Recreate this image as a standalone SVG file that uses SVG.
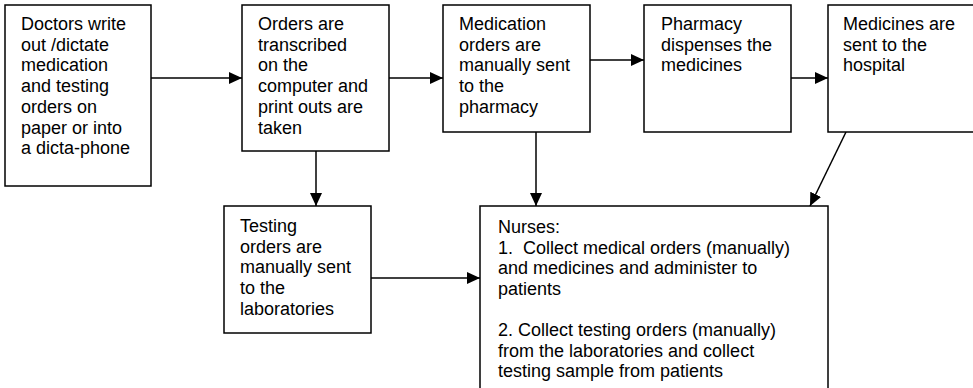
<svg xmlns="http://www.w3.org/2000/svg" width="973" height="388" viewBox="0 0 973 388">
<style>
.box{fill:#fff;stroke:#000;stroke-width:1.5}
.t{font-family:"Liberation Sans",Arial,sans-serif;font-size:18px;fill:#000}
.c{stroke:#000;stroke-width:1.5;fill:none;marker-end:url(#ah)}
</style>
<defs>
<marker id="ah" markerUnits="userSpaceOnUse" markerWidth="14" markerHeight="12" refX="13" refY="6" orient="auto">
<path d="M0,0 L13,6 L0,12 Z" fill="#000"/>
</marker>
</defs>
<rect width="973" height="388" fill="#fff"/>
<g id="connectors">
<line class="c" x1="151" y1="78" x2="242" y2="78"/>
<line class="c" x1="389" y1="78" x2="443" y2="78"/>
<line class="c" x1="590" y1="60" x2="644" y2="60"/>
<line class="c" x1="791" y1="78" x2="828" y2="78"/>
<line class="c" x1="316" y1="151" x2="316" y2="206"/>
<line class="c" x1="536" y1="132" x2="536" y2="206"/>
<line class="c" x1="846" y1="132" x2="810" y2="206"/>
<line class="c" x1="371" y1="278" x2="480" y2="278"/>
</g>
<g id="doctors">
<rect class="box" x="5" y="5" width="146" height="181"/>
<text class="t" x="21" y="30">Doctors write<tspan x="21" dy="20.7">out /dictate</tspan><tspan x="21" dy="20.7">medication</tspan><tspan x="21" dy="20.7">and testing</tspan><tspan x="21" dy="20.7">orders on</tspan><tspan x="21" dy="20.7">paper or into</tspan><tspan x="21" dy="20.7">a dicta-phone</tspan></text>
</g>
<g id="transcribed">
<rect class="box" x="242" y="5" width="147" height="146"/>
<text class="t" x="258" y="30">Orders are<tspan x="258" dy="20.7">transcribed</tspan><tspan x="258" dy="20.7">on the</tspan><tspan x="258" dy="20.7">computer and</tspan><tspan x="258" dy="20.7">print outs are</tspan><tspan x="258" dy="20.7">taken</tspan></text>
</g>
<g id="medication">
<rect class="box" x="443" y="5" width="147" height="127"/>
<text class="t" x="459" y="30">Medication<tspan x="459" dy="20.7">orders are</tspan><tspan x="459" dy="20.7">manually sent</tspan><tspan x="459" dy="20.7">to the</tspan><tspan x="459" dy="20.7">pharmacy</tspan></text>
</g>
<g id="pharmacy">
<rect class="box" x="644" y="5" width="147" height="127"/>
<text class="t" x="661" y="30">Pharmacy<tspan x="661" dy="20.7">dispenses the</tspan><tspan x="661" dy="20.7">medicines</tspan></text>
</g>
<g id="hospital">
<rect class="box" x="828" y="5" width="150" height="127"/>
<text class="t" x="843" y="30">Medicines are<tspan x="843" dy="20.7">sent to the</tspan><tspan x="843" dy="20.7">hospital</tspan></text>
</g>
<g id="testing">
<rect class="box" x="224" y="206" width="147" height="127"/>
<text class="t" x="240" y="232">Testing<tspan x="240" dy="20.7">orders are</tspan><tspan x="240" dy="20.7">manually sent</tspan><tspan x="240" dy="20.7">to the</tspan><tspan x="240" dy="20.7">laboratories</tspan></text>
</g>
<g id="nurses">
<rect class="box" x="480" y="206" width="348" height="190"/>
<text class="t" x="498" y="233">Nurses:<tspan x="498" dy="20.6">1.&#160; Collect medical orders (manually)</tspan><tspan x="498" dy="20.6">and medicines and administer to</tspan><tspan x="498" dy="20.6">patients</tspan><tspan x="498" dy="41.2">2. Collect testing orders (manually)</tspan><tspan x="498" dy="20.6">from the laboratories and collect</tspan><tspan x="498" dy="20.6">testing sample from patients</tspan></text>
</g>
</svg>
